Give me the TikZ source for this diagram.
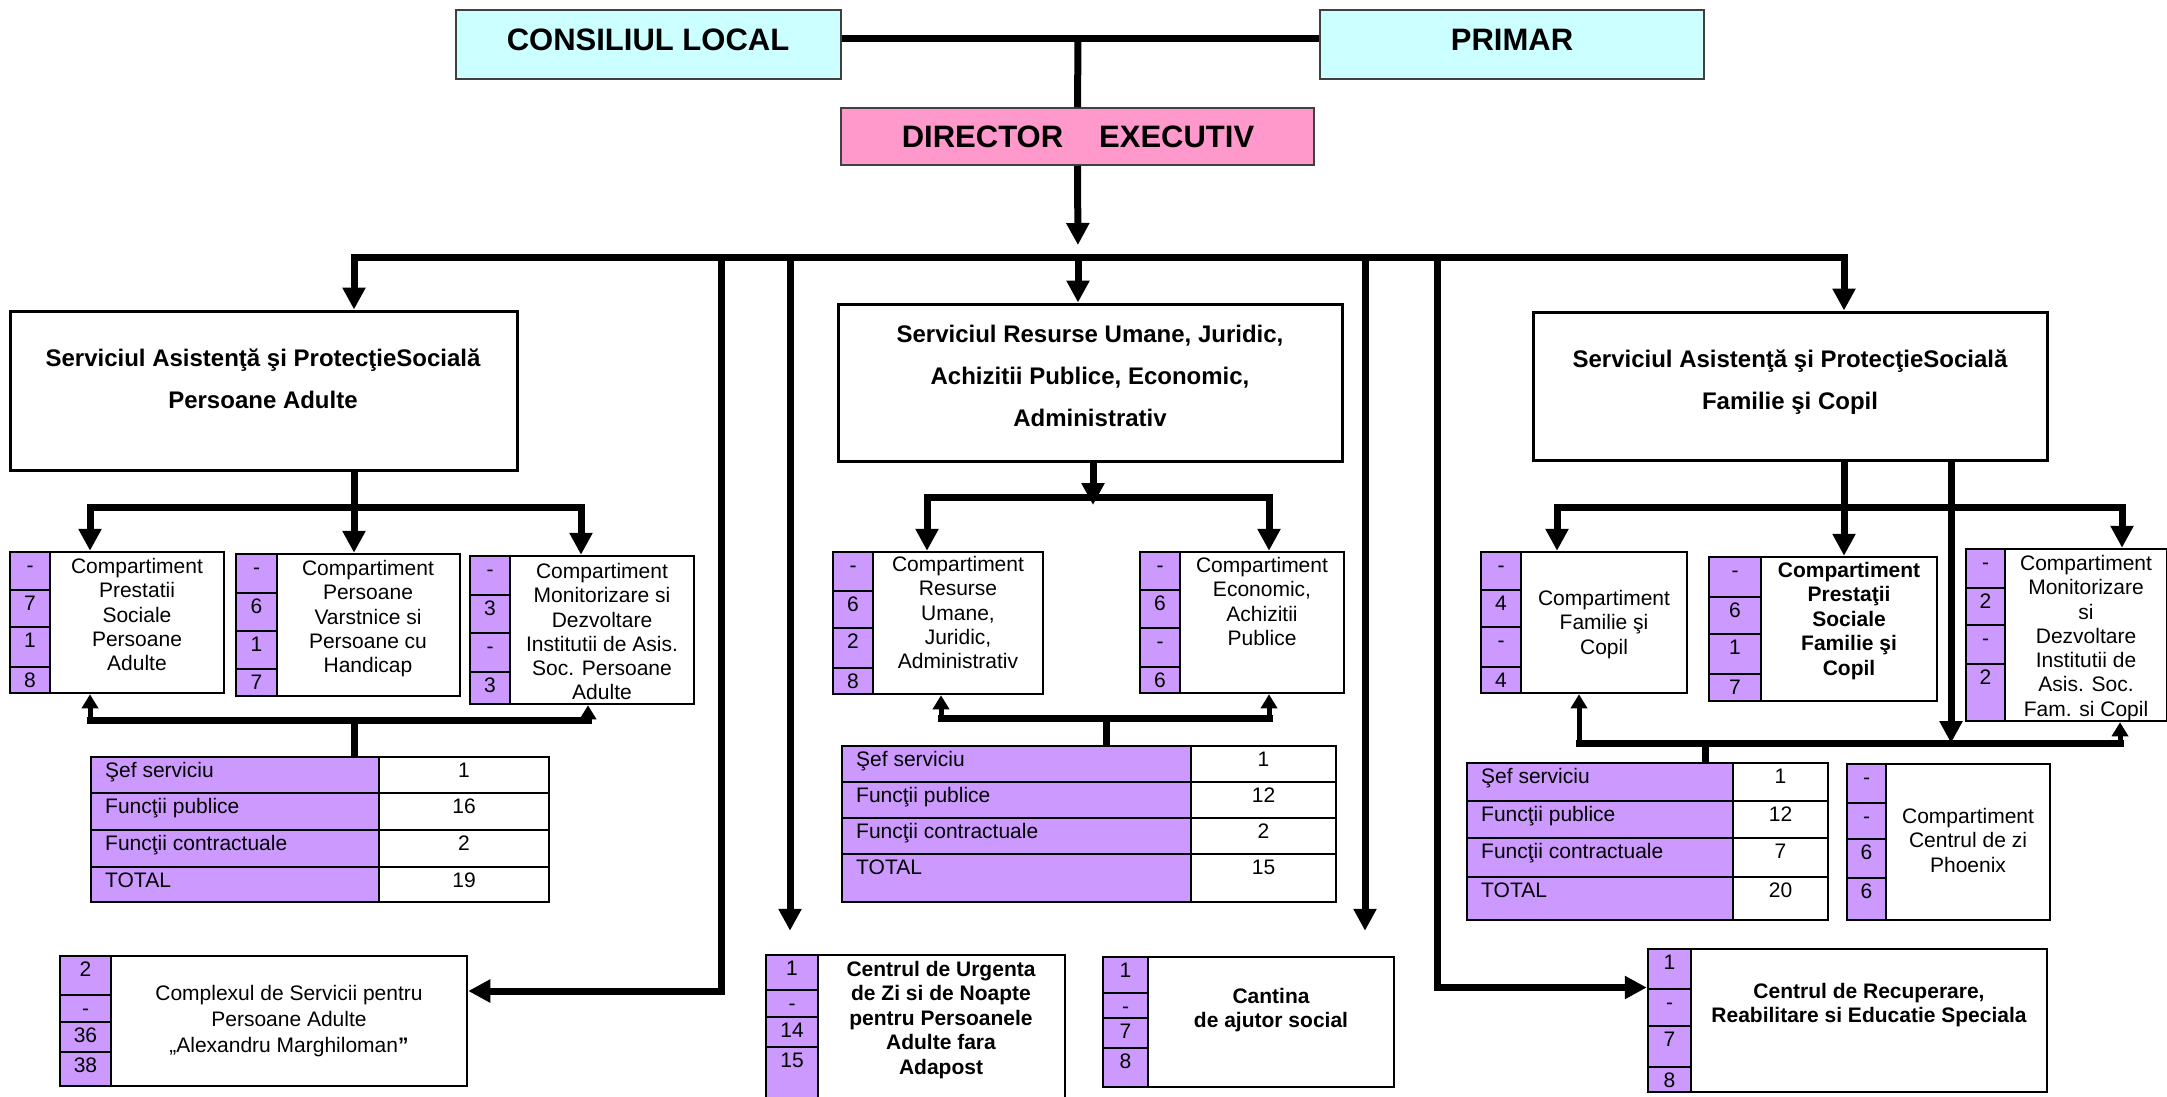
\documentclass[tikz,border=0pt]{standalone}
\usepackage{fontspec}
\setmainfont{Liberation Sans}
\usepackage{tikz}
\usetikzlibrary{arrows.meta, fit}
\definecolor{lilac}{RGB}{204,153,255}
\definecolor{paleblue}{RGB}{204,255,255}
\definecolor{rose}{RGB}{255,153,204}

\tikzset{
  headbox/.style={draw=black!75, line width=1.5pt, inner sep=0pt},
  headtxt/.style={inner sep=0pt, font=\fontsize{31}{36}\selectfont\bfseries},
  frame/.style={draw, fill=white, line width=2.5pt, inner sep=0pt},
  titletxt/.style={inner sep=0pt, anchor=north, align=center, font=\fontsize{24}{42}\selectfont\bfseries},
  comptxt/.style={inner sep=0pt, anchor=north, align=center, font=\fontsize{21}{24.3}\selectfont},
  compbold/.style={comptxt, font=\fontsize{21}{24.5}\selectfont\bfseries},
  numcell/.style={draw, fill=lilac, line width=2pt},
  numtxt/.style={inner sep=0pt, anchor=base, font=\fontsize{21}{24}\selectfont},
  lblcell/.style={draw, fill=lilac, line width=2.5pt},
  valcell/.style={draw, fill=white, line width=2.5pt},
  tabtxt/.style={inner sep=0pt, font=\fontsize{21}{24}\selectfont},
  conn/.style={line width=7pt},
  hbar/.style={line width=7pt, line cap=rect},
  up/.style={line width=5pt, -{Triangle[length=14pt, width=16pt]}}
}

\newcommand{\numcol}[4]{%
  \foreach \ya/\yb/\nr [count=\k] in {#4}{
    \draw[numcell] (#2,\ya) rectangle (#3,\yb);
    \node[numtxt] (#1-n\k) at ({(#2+#3)/2},\ya+20) {\nr};
  }}
\newcommand{\rowname}[1]{\ifcase#1 \or Şef serviciu\or Funcţii publice\or Funcţii contractuale\or TOTAL\fi}
\newcommand{\stafftab}[7]{%
  \foreach \ya/\yb/\val [count=\k] in {#7}{
    \draw[lblcell] (#2,\ya) rectangle (#3,\yb);
    \draw[valcell] (#3,\ya) rectangle (#4,\yb);
    \node[tabtxt, anchor=base west] (#1-l\k) at (#2+14,\ya+20) {\rowname{\k}};
    \node[tabtxt, anchor=base] (#1-v\k) at ({(#3+#4)/2},\ya+20) {\val};
  }
  \node[inner sep=0pt, fit={(#2,#5) (#4,#6)}] (#1) {};}

\begin{document}
\begin{tikzpicture}[x=1pt, y=-1pt, >={Triangle[length=22pt, width=22pt]}]
\useasboundingbox (0,0) rectangle (2167,1096);
\fill[white] (0,0) rectangle (2167,1096);

\node[headbox, fill=paleblue, fit={(456,10) (841,79)}] (cl) {};
\node[headtxt] (cl-t) at (648,40) {CONSILIUL LOCAL};
\node[headbox, fill=paleblue, fit={(1320,10) (1704,79)}] (pr) {};
\node[headtxt] (pr-t) at (1512,40) {PRIMAR};
\node[headbox, fill=rose, fit={(841,108) (1314,165)}] (de) {};
\node[headtxt] (de-t) at (1078,137) {DIRECTOR\hspace{36pt}EXECUTIV};

% servicii
\node[frame, line width=3pt, fit={(10,311) (517,470)}] (spa) {};
\node[titletxt] (spa-t) at (263,349) {Serviciul Asistenţă şi ProtecţieSocială\\Persoane Adulte};
\node[frame, line width=3pt, fit={(838,304) (1342,461)}] (sru) {};
\node[titletxt] (sru-t) at (1090,325) {Serviciul Resurse Umane, Juridic,\\Achizitii Publice, Economic,\\Administrativ};
\node[frame, line width=3pt, fit={(1533,312) (2047,460)}] (sfc) {};
\node[titletxt] (sfc-t) at (1790,350) {Serviciul Asistenţă şi ProtecţieSocială\\Familie şi Copil};

% compartimente
\node[frame, fit={(10,552) (224,693)}] (pa1) {};
\numcol{pa1}{10}{50}{552/590/-, 590/627/7, 627/667/1, 667/693/8}
\node[comptxt] (pa1-t) at (137,558) {Compartiment\\Prestatii\\Sociale\\Persoane\\Adulte};
\node[frame, fit={(236,554) (460,696)}] (pa2) {};
\numcol{pa2}{236}{277}{554/593/-, 593/631/6, 631/669/1, 669/696/7}
\node[comptxt] (pa2-t) at (368,560) {Compartiment\\Persoane\\Varstnice si\\Persoane cu\\Handicap};
\node[frame, fit={(470,556) (694,704)}] (pa3) {};
\numcol{pa3}{470}{510}{556/595/-, 595/633/3, 633/672/-, 672/704/3}
\node[comptxt] (pa3-t) at (602,563) {Compartiment\\Monitorizare si\\Dezvoltare\\Institutii de Asis.\\Soc. Persoane\\Adulte};

\node[frame, fit={(833,552) (1043,694)}] (ru1) {};
\numcol{ru1}{833}{873}{552/591/-, 591/628/6, 628/668/2, 668/694/8}
\node[comptxt] (ru1-t) at (958,556) {Compartiment\\Resurse\\Umane,\\Juridic,\\Administrativ};
\node[frame, fit={(1140,552) (1344,693)}] (ru2) {};
\numcol{ru2}{1140}{1180}{552/590/-, 590/628/6, 628/667/-, 667/693/6}
\node[comptxt] (ru2-t) at (1262,557) {Compartiment\\Economic,\\Achizitii\\Publice};

\node[frame, fit={(1481,552) (1687,693)}] (fc1) {};
\numcol{fc1}{1481}{1521}{552/590/-, 590/627/4, 627/667/-, 667/693/4}
\node[comptxt] (fc1-t) at (1604,590) {Compartiment\\Familie şi\\Copil};
\node[frame, fit={(1709,557) (1937,701)}] (fc2) {};
\numcol{fc2}{1709}{1761}{557/597/-, 597/634/6, 634/674/1, 674/701/7}
\node[compbold] (fc2-t) at (1849,562) {Compartiment\\Prestaţii\\Sociale\\Familie şi\\Copil};
\node[frame, fit={(1966,549) (2167,721)}] (fc3) {};
\numcol{fc3}{1966}{2005}{549/588/-, 588/625/2, 625/664/-, 664/721/2}
\node[comptxt] (fc3-t) at (2086,555) {Compartiment\\Monitorizare\\si\\Dezvoltare\\Institutii de\\Asis. Soc.\\Fam. si Copil};

\node[frame, fit={(1847,764) (2050,920)}] (ph) {};
\numcol{ph}{1847}{1886}{764/803/-, 803/839/-, 839/878/6, 878/920/6}
\node[comptxt] (ph-t) at (1968,808) {Compartiment\\Centrul de zi\\Phoenix};

% tabele
\stafftab{t1}{91}{379}{549}{757}{902}{757/793/1, 793/830/16, 830/867/2, 867/902/19}
\stafftab{t2}{842}{1191}{1336}{746}{902}{746/782/1, 782/818/12, 818/854/2, 854/902/15}
\stafftab{t3}{1467}{1733}{1828}{763}{920}{763/801/1, 801/838/12, 838/877/7, 877/920/20}

% centre
\node[frame, fit={(60,956) (467,1086)}] (cx) {};
\numcol{cx}{60}{111}{956/995/2, 995/1022/-, 1022/1052/36, 1052/1086/38}
\node[comptxt, font=\fontsize{21}{26}\selectfont] (cx-t) at (289,985) {Complexul de Servicii pentru\\Persoane Adulte\\„Alexandru Marghiloman\textbf{”}};
\node[frame, fit={(766,955) (1065,1104)}] (cu) {};
\numcol{cu}{766}{818}{955/990/1, 990/1017/-, 1017/1047/14, 1047/1104/15}
\node[compbold] (cu-t) at (941,961) {Centrul de Urgenta\\de Zi si de Noapte\\pentru Persoanele\\Adulte fara\\Adapost};
\node[frame, fit={(1103,957) (1394,1087)}] (ca) {};
\numcol{ca}{1103}{1148}{957/993/1, 993/1018/-, 1018/1048/7, 1048/1087/8}
\node[compbold] (ca-t) at (1271,988) {Cantina\\de ajutor social};
\node[frame, fit={(1648,949) (2047,1092)}] (rc) {};
\numcol{rc}{1648}{1691}{949/989/1, 989/1026/-, 1026/1067/7, 1067/1092/8}
\node[compbold] (rc-t) at (1869,983) {Centrul de Recuperare,\\Reabilitare si Educatie Speciala};

% legaturi
\coordinate (top) at (1078,38);
\coordinate (busL) at (354,257);
\coordinate (busM) at (1078,257);
\coordinate (busR) at (1844,257);
\draw[conn] ([yshift=6pt]cl.east) -- ([yshift=6pt]pr.west);
\draw[conn] (top) -- (de.north);
\draw[conn, ->, shorten >=12pt] (de.south) -- (busM);
\draw[conn, <->] (busL |- spa.north) -- (busL) -- (busR) -- (busR |- sfc.north);
\draw[conn, ->] (busM) -- (busM |- sru.north);

\coordinate (vA) at (721,257);
\coordinate (vB) at (790,257);
\coordinate (vC) at (1365,257);
\coordinate (vD) at (1437,257);
\draw[conn, ->] (vA) |- ([yshift=30pt]cx.east);
\draw[conn, ->, shorten >=23pt] (vB) -- (vB |- cu.north);
\draw[conn, ->, shorten >=25pt] (vC) -- (vC |- ca.north);
\draw[conn, ->] (vD) |- ([yshift=33pt]rc.west);

\coordinate (paL) at (90,507);
\coordinate (paJ) at (354,507);
\coordinate (paR) at (581,507);
\coordinate (paBL) at (90,720);
\coordinate (paBR) at (588,720);
\draw[conn] (spa.south -| paJ) -- (paJ);
\draw[conn, <->] (paL |- pa1.north) -- (paL) -- (paR) -- (paR |- pa3.north);
\draw[conn, ->] (paJ) -- (paJ |- pa2.north);
\draw[hbar] (paBL) -- (paBR);
\draw[up] (paBL) -- (paBL |- pa1.south);
\draw[up] (paBR) -- (paBR |- pa3.south);
\draw[conn] (t1.north -| paJ) -- (paJ |- paBL);

\coordinate (ruL) at (927,497);
\coordinate (ruJ) at (1093,497);
\coordinate (ruR) at (1269,497);
\coordinate (ruBL) at (941,718);
\coordinate (ruBR) at (1269,718);
\coordinate (ruS) at (1106,718);
\draw[conn, <->] (ruL |- ru1.north) -- (ruL) -- (ruR) -- (ruR |- ru2.north);
\draw[conn, ->] (sru.south -| ruJ) -- ([yshift=-8pt]ruJ);
\draw[hbar] (ruBL) -- (ruBR);
\draw[up] (ruBL) -- (ruBL |- ru1.south);
\draw[up] (ruBR) -- (ruBR |- ru2.south);
\draw[conn] (t2.north -| ruS) -- (ruS);

\coordinate (fcL) at (1557,507);
\coordinate (fcJ) at (1844,507);
\coordinate (fcR) at (2122,507);
\coordinate (fcV) at (1951,743);
\coordinate (fcBL) at (1579,743);
\coordinate (fcBR) at (2120,743);
\coordinate (fcS) at (1705,743);
\draw[conn] (sfc.south -| fcJ) -- (fcJ);
\draw[conn, <->] (fcL |- fc1.north) -- (fcL) -- (fcR) -- (fcR |- fc3.north);
\draw[conn, ->] (fcJ) -- (fcJ |- fc2.north);
\draw[conn, ->] (sfc.south -| fcV) -- (fcV);
\draw[hbar] (fcBL) -- (fcBR);
\draw[up] (fcBL) -- (fcBL |- fc1.south);
\draw[up] (fcBR) -- (fcBR |- fc3.south);
\draw[conn] (t3.north -| fcS) -- (fcS);

\end{tikzpicture}
\end{document}
